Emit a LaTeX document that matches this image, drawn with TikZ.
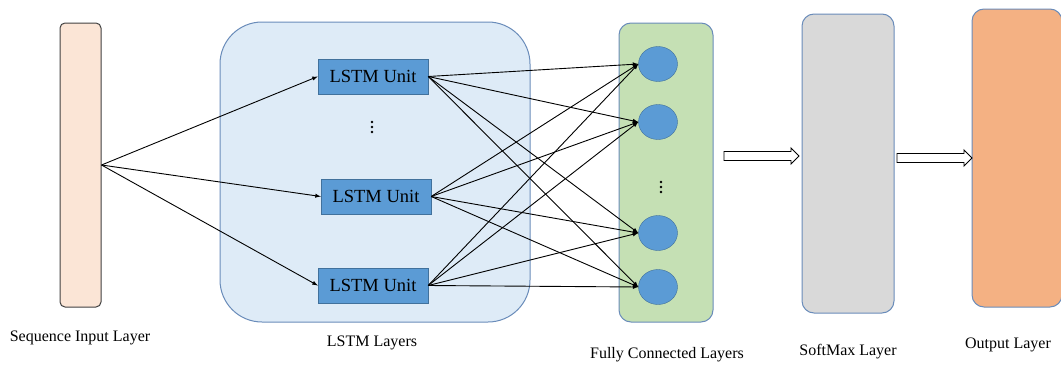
\documentclass[tikz,border=0pt]{standalone}
\usepackage{fontspec}
\setmainfont{Liberation Serif}
\usetikzlibrary{arrows}
\usetikzlibrary{shapes.geometric}

\definecolor{inputfill}{HTML}{FBE5D6}
\definecolor{inputedge}{HTML}{404040}
\definecolor{lstmfill}{HTML}{DEEBF7}
\definecolor{layeredge}{HTML}{6A8CBA}
\definecolor{unitfill}{HTML}{5B9BD5}
\definecolor{unitedge}{HTML}{41719C}
\definecolor{fcfill}{HTML}{C5E0B4}
\definecolor{softfill}{HTML}{D9D9D9}
\definecolor{outfill}{HTML}{F4B183}

\begin{document}
\begin{tikzpicture}[x=1pt,y=-1pt,
    layer/.style={draw=layeredge,line width=1pt,rounded corners=12pt,inner sep=0pt},
    unit/.style={draw=unitedge,fill=unitfill,minimum width=110pt,minimum height=35pt,
      inner sep=0pt,font=\rmfamily\fontsize{18.5}{20}\selectfont},
    neuron/.style={ellipse,draw=unitedge,fill=unitfill,minimum width=39pt,
      minimum height=35pt,inner sep=0pt},
    caption/.style={font=\rmfamily\fontsize{16}{18}\selectfont},
    link/.style={-latex,line width=0.9pt,black},
    hollow/.style={draw=black,line width=0.9pt,fill=white,line join=miter}]

  \useasboundingbox (0,0) rectangle (1061,367);

  % input layer
  \node[layer,draw=inputedge,fill=inputfill,rounded corners=5pt,
    minimum width=41pt,minimum height=284pt] (input) at (80.5,165) {};
  \node[caption] (inputlbl) at (80,338) {Sequence Input Layer};

  % lstm block with its units
  \begin{scope}
    \node[layer,fill=lstmfill,rounded corners=42pt,
      minimum width=310pt,minimum height=300pt] (lstm) at (375,172) {};
    \node[unit] (u1) at (373,76.5) {LSTM Unit};
    \node[unit] (u2) at (376,196.5) {LSTM Unit};
    \node[unit] (u3) at (373,285.5) {LSTM Unit};
    \foreach \y in {122,127,132} {
        \fill (372,\y) circle (1.3); %vertical dots
      }
    \node[caption] (lstmlbl) at (372,343) {LSTM Layers};
  \end{scope}

  % fully connected layer
  \begin{scope}
    \node[layer,fill=fcfill,minimum width=94pt,minimum height=299pt] (fc) at (666,172.5) {};
    \foreach \n/\y in {n1/64,n2/122,n3/233,n4/287} {
        \node[neuron] (\n) at (658,\y) {};
      }
    \foreach \y in {182,187,192} {
        \fill (661,\y) circle (1.3); %vertical dots
      }
    \node[caption] (fclbl) at (667,355) {Fully Connected Layers};
  \end{scope}

  % softmax and output
  \node[layer,fill=softfill,minimum width=92pt,minimum height=299pt] (soft) at (848,163.5) {};
  \node[caption] (softlbl) at (848,352) {SoftMax Layer};
  \node[layer,fill=outfill,minimum width=90pt,minimum height=298pt] (out) at (1017,158) {};
  \node[caption] (outlbl) at (1008,345) {Output Layer};

  % block arrows between the layers
  \foreach \x/\y in {724/156,897/158} {
      \draw[hollow] (\x,\y-4.5) -- ++(67,0) -- ++(0,-3.5) -- ++(8,8)
        -- ++(-8,8) -- ++(0,-3.5) -- ++(-67,0) -- cycle;
    }

  % input fans out to every unit
  \foreach \u in {u1,u2,u3} {
      \draw[link] (input.east) -- (\u.west);
    }
  % every unit feeds every neuron
  \foreach \u in {u1,u2,u3} {
      \foreach \n in {n1,n2,n3,n4} {
          \draw[link] (\u.east) -- (\n.west);
        }
    }
\end{tikzpicture}
\end{document}
